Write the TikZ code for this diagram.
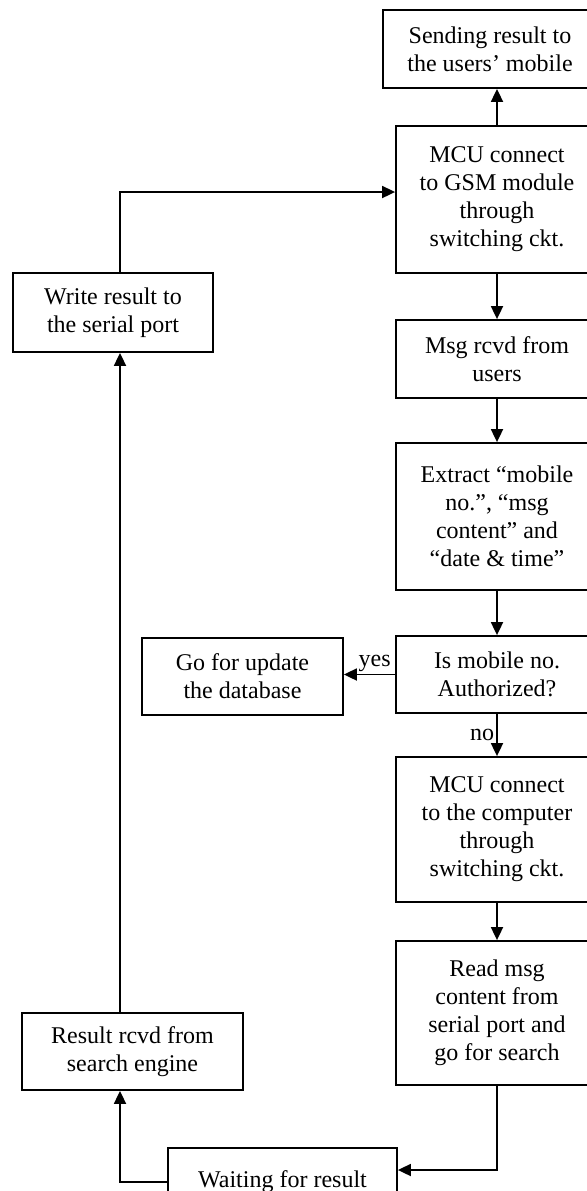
\documentclass[tikz,border=0pt]{standalone}
\usepackage{fontspec}
\setmainfont{Liberation Serif}
\usetikzlibrary{arrows.meta,positioning,calc}

\begin{document}
\begin{tikzpicture}[x=0.5pt,y=-0.5pt,->,>={Triangle[length=6.5pt,width=6pt]},
                    line width=0.9pt]
  \tikzstyle{blok}=[draw, rectangle, align=center, inner sep=0pt,
                    font=\fontsize{12}{14}\selectfont, -]
  \tikzstyle{lbl}=[font=\fontsize{12}{14}\selectfont, inner sep=1pt]

  \useasboundingbox (0,0) rectangle (587,1191);
  \clip (0,0) rectangle (587,1191);

  % right column
  \node[blok, minimum width=107pt, minimum height=39pt]   (send)  at (490,49)    {Sending result to\\the users’ mobile};
  \node[blok, minimum width=101pt, minimum height=73.5pt] (gsm)   at (497,199.5) {MCU connect\\to GSM module\\through\\switching ckt.};
  \node[blok, minimum width=101pt, minimum height=39pt]   (rcvd)  at (497,359)   {Msg rcvd from\\users};
  \node[blok, minimum width=101pt, minimum height=73.5pt] (extr)  at (497,516.5) {Extract “mobile\\no.”, “msg\\content” and\\“date \& time”};
  \node[blok, minimum width=101pt, minimum height=38.5pt] (auth)  at (497,674.5) {Is mobile no.\\Authorized?};
  \node[blok, minimum width=101pt, minimum height=72.5pt] (comp)  at (497,829.5) {MCU connect\\to the computer\\through\\switching ckt.};
  \node[blok, minimum width=101pt, minimum height=72pt]   (read)  at (497,1013)  {Read msg\\content from\\serial port and\\go for search};

  % left side
  \node[blok, minimum width=100.5pt, minimum height=38.5pt] (upd)    at (242.5,676.5)  {Go for update\\the database};
  \node[blok, minimum width=100pt,   minimum height=39.5pt] (write)  at (113,312.5)    {Write result to\\the serial port};
  \node[blok, minimum width=110.5pt, minimum height=38.5pt] (result) at (132.5,1051.5) {Result rcvd from\\search engine};
  \node[blok, minimum width=114.5pt, minimum height=34pt]   (wait)   at (282.5,1182)   {Waiting for result};

  \coordinate (col) at (120,0);

  \draw (gsm.north) -- (gsm.north |- send.south);
  \draw (gsm.south) -- (rcvd.north);
  \draw (rcvd.south) -- (extr.north);
  \draw (extr.south) -- (auth.north);
  \draw (auth.west) -- node[lbl, above, pos=0.4] {yes} (auth.west -| upd.east);
  \draw (auth.south) -- node[lbl, left] {no} (comp.north);
  \draw (comp.south) -- (read.north);
  \draw (read.south) |- ([yshift=6pt]wait.east);
  \draw (wait.west) -| (col |- result.south);
  \draw (col |- result.north) -- (col |- write.south);
  \draw (col |- write.north) |- ([yshift=3.75pt]gsm.west);
\end{tikzpicture}
\end{document}
